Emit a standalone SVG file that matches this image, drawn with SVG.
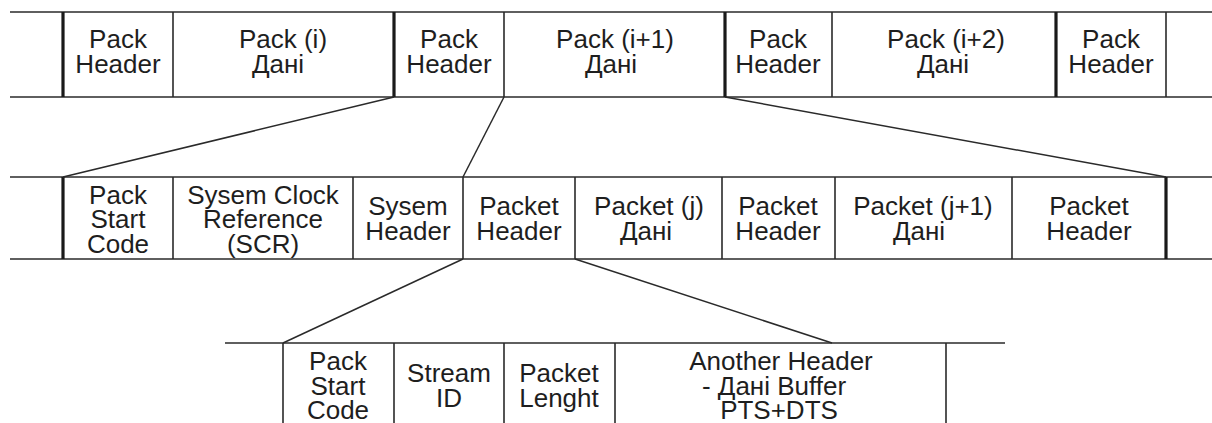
<svg xmlns="http://www.w3.org/2000/svg" width="1212" height="423" viewBox="0 0 1212 423">
<style>
.rule{stroke:#2a2a2a;stroke-width:1.6;fill:none}
.thin{stroke:#2a2a2a;stroke-width:1.6;fill:none}
.thick{stroke:#1a1a1a;stroke-width:3.2;fill:none}
.con{stroke:#2a2a2a;stroke-width:1.5;fill:none}
text{font-family:"Liberation Sans",Arial,sans-serif;font-size:26px;fill:#1e1e1e;text-anchor:middle}
</style>
<rect width="1212" height="423" fill="#fff"/>
<!-- Row 1 -->
<g id="row1">
<line class="rule" x1="10" y1="12" x2="1212" y2="12"/>
<line class="rule" x1="10" y1="97" x2="1212" y2="97"/>
<line class="thick" x1="63" y1="12" x2="63" y2="97"/>
<line class="thin" x1="173" y1="12" x2="173" y2="97"/>
<line class="thick" x1="394" y1="12" x2="394" y2="97"/>
<line class="thin" x1="504" y1="12" x2="504" y2="97"/>
<line class="thick" x1="725" y1="12" x2="725" y2="97"/>
<line class="thin" x1="832" y1="12" x2="832" y2="97"/>
<line class="thick" x1="1056" y1="12" x2="1056" y2="97"/>
<line class="thin" x1="1166" y1="12" x2="1166" y2="97"/>
</g>
<g id="r1-ph1"><text x="118" y="48">Pack</text><text x="118" y="73">Header</text></g>
<g id="r1-pi"><text x="283" y="48">Pack (i)</text><text x="278" y="73">Дані</text></g>
<g id="r1-ph2"><text x="449" y="48">Pack</text><text x="449" y="73">Header</text></g>
<g id="r1-pi1"><text x="615" y="48">Pack (i+1)</text><text x="611" y="73">Дані</text></g>
<g id="r1-ph3"><text x="778" y="48">Pack</text><text x="778" y="73">Header</text></g>
<g id="r1-pi2"><text x="946" y="48">Pack (i+2)</text><text x="943" y="73">Дані</text></g>
<g id="r1-ph4"><text x="1111" y="48">Pack</text><text x="1111" y="73">Header</text></g>
<!-- Row 2 -->
<g id="row2">
<line class="rule" x1="10" y1="177" x2="1212" y2="177"/>
<line class="rule" x1="10" y1="259" x2="1212" y2="259"/>
<line class="thick" x1="63" y1="177" x2="63" y2="259"/>
<line class="thin" x1="173" y1="177" x2="173" y2="259"/>
<line class="thin" x1="353" y1="177" x2="353" y2="259"/>
<line class="thin" x1="463" y1="177" x2="463" y2="259"/>
<line class="thin" x1="575" y1="177" x2="575" y2="259"/>
<line class="thin" x1="722" y1="177" x2="722" y2="259"/>
<line class="thin" x1="835" y1="177" x2="835" y2="259"/>
<line class="thin" x1="1012" y1="177" x2="1012" y2="259"/>
<line class="thick" x1="1166" y1="177" x2="1166" y2="259"/>
</g>
<g id="r2-psc"><text x="118" y="204">Pack</text><text x="118" y="228">Start</text><text x="118" y="253">Code</text></g>
<g id="r2-scr"><text x="263" y="204">Sysem Clock</text><text x="263" y="228">Reference</text><text x="263" y="253">(SCR)</text></g>
<g id="r2-sh"><text x="408" y="215">Sysem</text><text x="408" y="240">Header</text></g>
<g id="r2-pkh1"><text x="519" y="215">Packet</text><text x="519" y="240">Header</text></g>
<g id="r2-pj"><text x="649" y="215">Packet (j)</text><text x="646" y="240">Дані</text></g>
<g id="r2-pkh2"><text x="778" y="215">Packet</text><text x="778" y="240">Header</text></g>
<g id="r2-pj1"><text x="923" y="215">Packet (j+1)</text><text x="919" y="240">Дані</text></g>
<g id="r2-pkh3"><text x="1089" y="215">Packet</text><text x="1089" y="240">Header</text></g>
<!-- Row 3 -->
<g id="row3">
<line class="rule" x1="225" y1="343" x2="1005" y2="343"/>
<line class="thin" x1="283" y1="343" x2="283" y2="423"/>
<line class="thin" x1="394" y1="343" x2="394" y2="423"/>
<line class="thin" x1="504" y1="343" x2="504" y2="423"/>
<line class="thin" x1="615" y1="343" x2="615" y2="423"/>
<line class="thin" x1="946" y1="343" x2="946" y2="423"/>
</g>
<g id="r3-psc"><text x="338" y="370">Pack</text><text x="338" y="395">Start</text><text x="338" y="419">Code</text></g>
<g id="r3-sid"><text x="449" y="382">Stream</text><text x="449" y="407">ID</text></g>
<g id="r3-pl"><text x="559" y="382">Packet</text><text x="559" y="407">Lenght</text></g>
<g id="r3-ah"><text x="781" y="370">Another Header</text><text x="774" y="395">- Дані Buffer</text><text x="779" y="419">PTS+DTS</text></g>
<!-- connectors -->
<g id="connectors">
<line class="con" x1="394" y1="97" x2="63" y2="177"/>
<line class="con" x1="504" y1="97" x2="463" y2="177"/>
<line class="con" x1="725" y1="97" x2="1166" y2="177"/>
<line class="con" x1="463" y1="259" x2="283" y2="343"/>
<line class="con" x1="575" y1="259" x2="832" y2="343"/>
</g>
</svg>
